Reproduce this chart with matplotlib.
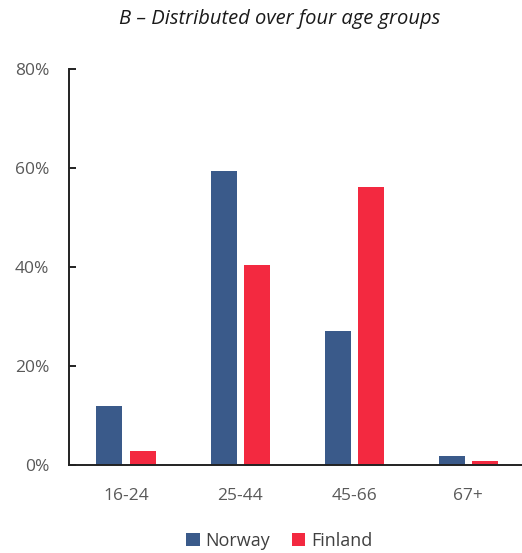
import matplotlib.pyplot as plt
import numpy as np

# values (share of each country's group)
age_groups = ["16-24", "25-44", "45-66", "67+"]
norway = [0.12, 0.595, 0.27, 0.018]
finland = [0.028, 0.405, 0.562, 0.008]
y_ticks = [0.0, 0.2, 0.4, 0.6, 0.8]
y_tick_labels = ["0%", "20%", "40%", "60%", "80%"]

NORWAY_COLOR = "#3a5a8a"
FINLAND_COLOR = "#f32940"
TEXT_COLOR = "#595959"

plt.rcParams["font.family"] = ["Open Sans", "DejaVu Sans"]

fig = plt.figure(figsize=(5.22, 5.53), dpi=100)
ax = fig.add_axes([0.132, 0.159, 0.868, 0.716])

x = np.arange(len(age_groups))
width = 0.228
offset = 0.145
ax.bar(x - offset, norway, width, color=NORWAY_COLOR, label="Norway")
ax.bar(x + offset, finland, width, color=FINLAND_COLOR, label="Finland")

ax.set_xlim(-0.5, 3.47)
ax.set_ylim(0, 0.8)
ax.set_xticks(x)
ax.set_xticklabels(age_groups)
ax.set_yticks(y_ticks)
ax.set_yticklabels(y_tick_labels)

for side in ("top", "right"):
    ax.spines[side].set_visible(False)
for side in ("left", "bottom"):
    ax.spines[side].set_linewidth(1.4)
    ax.spines[side].set_color("#222222")

ax.tick_params(axis="y", direction="in", length=5, width=1.4, pad=14,
               labelsize=12.5, labelcolor=TEXT_COLOR, color="#222222")
ax.tick_params(axis="x", length=0, pad=16.5, labelsize=12.5, labelcolor=TEXT_COLOR)

fig.text(0.536, 0.965, "B \u2013 Distributed over four age groups",
         ha="center", va="center", fontsize=14.5, style="italic", color="#1a1a1a")

fig.legend(loc="center", bbox_to_anchor=(0.535, 0.022), ncol=2, frameon=False,
           fontsize=13, handlelength=0.75, handleheight=0.75, handletextpad=0.3,
           columnspacing=1.2, labelcolor="#404040")

fig.savefig("out.png", dpi=100)
